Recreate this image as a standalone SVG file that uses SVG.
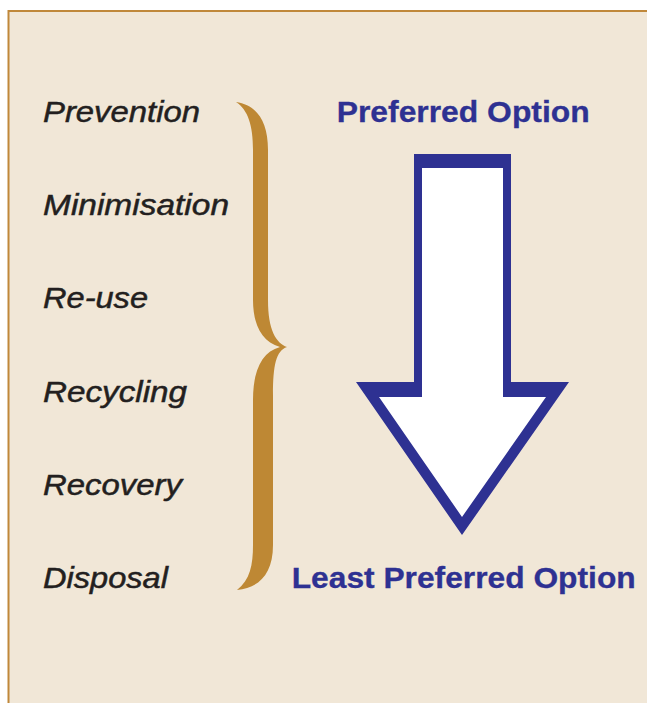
<svg xmlns="http://www.w3.org/2000/svg" width="647" height="703" viewBox="0 0 647 703">
  <style>
    .item { font-family: "Liberation Sans", Arial, sans-serif; font-style: italic; font-size: 30px; fill: #231F20; stroke: #231F20; stroke-width: 0.5px; }
    .label { font-family: "Liberation Sans", Arial, sans-serif; font-weight: bold; font-size: 30px; fill: #2E3192; stroke: #2E3192; stroke-width: 0.3px; }
  </style>
  <rect width="647" height="703" fill="#FFFFFF"/>
  <rect x="8.5" y="11" width="660" height="720" fill="#F1E7D7" stroke="#C0883A" stroke-width="2"/>

  <g id="items">
    <text class="item" x="43" y="121.7" textLength="157" lengthAdjust="spacingAndGlyphs">Prevention</text>
    <text class="item" x="43" y="215" textLength="186" lengthAdjust="spacingAndGlyphs">Minimisation</text>
    <text class="item" x="43" y="308.3" textLength="105" lengthAdjust="spacingAndGlyphs">Re-use</text>
    <text class="item" x="43" y="401.7" textLength="144" lengthAdjust="spacingAndGlyphs">Recycling</text>
    <text class="item" x="43" y="495" textLength="139" lengthAdjust="spacingAndGlyphs">Recovery</text>
    <text class="item" x="43" y="588.3" textLength="125" lengthAdjust="spacingAndGlyphs">Disposal</text>
  </g>

  <g id="brace">
    <path fill="#BE8834" d="M236,102 C256,105 268,120 268,150 L268,300 C268,330 276,343 287,347 C276,351 273,365 273,395 L273,545 C273,575 258,588 237,590 C250,580 253,565 253,545 L253,400 C253,370 262,352 280,347 C262,342 253,325 253,300 L253,150 C253,125 248,110 236,102 Z"/>
  </g>

  <g id="arrow">
    <polygon fill="#2E3192" points="414,154 511,154 511,382 569,382 462,535 356,382 414,382"/>
    <polygon fill="#FFFFFF" points="422,168 503,168 503,397 546,397 462,517 379,397 422,397"/>
  </g>

  <g id="labels">
    <text class="label" x="336.7" y="121.7" textLength="253" lengthAdjust="spacingAndGlyphs">Preferred Option</text>
    <text class="label" x="291.7" y="588.3" textLength="344" lengthAdjust="spacingAndGlyphs">Least Preferred Option</text>
  </g>
</svg>
